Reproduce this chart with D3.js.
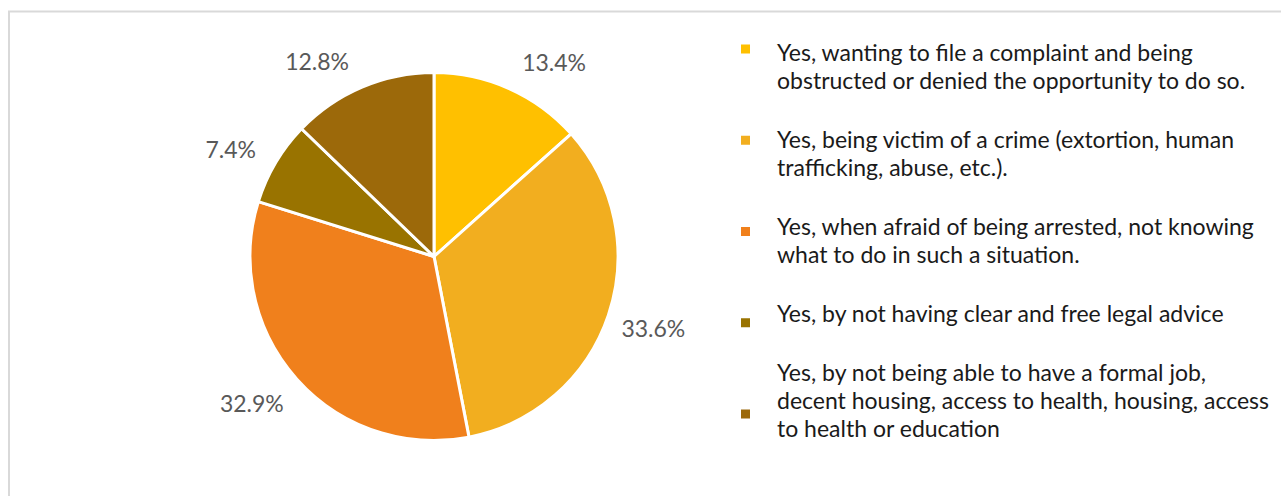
<!DOCTYPE html>
<html>
<head>
<meta charset="utf-8">
<script src="https://cdn.jsdelivr.net/npm/d3@7"></script>
<style>
  html, body { margin: 0; padding: 0; background: #fff; }
  svg { display: block; }
</style>
</head>
<body>
<svg id="chart" width="1281" height="496"></svg>
<script>
const categories = [
  "Yes, wanting to file a complaint and being\nobstructed or denied the opportunity to do so.",
  "Yes, being victim of a crime (extortion, human\ntrafficking, abuse, etc.).",
  "Yes, when afraid of being arrested, not knowing\nwhat to do in such a situation.",
  "Yes, by not having clear and free legal advice",
  "Yes, by not being able to have a formal job,\ndecent housing, access to health, housing, access\nto health or education"
];
const values = [13.4, 33.6, 32.9, 7.4, 12.8];
const valueLabels = ["13.4%", "33.6%", "32.9%", "7.4%", "12.8%"];
const colors = ["#FFC000", "#F2AE1F", "#F0801C", "#997300", "#9C690A"];

const svg = d3.select("#chart");
const FONT = "Lato, 'Open Sans', sans-serif";

// chart area border (extends past right and bottom edge)
svg.append("rect")
  .attr("x", 9).attr("y", 11.5)
  .attr("width", 1400).attr("height", 600)
  .attr("fill", "#fff")
  .attr("stroke", "#d9d9d9").attr("stroke-width", 2);

const cx = 434, cy = 256.5, R = 184;
const g = svg.append("g").attr("transform", `translate(${cx},${cy})`);

const pie = d3.pie().sort(null).value(d => d);
const arcs = pie(values);
const arc = d3.arc().innerRadius(0).outerRadius(R);

g.selectAll("path.slice").data(arcs).enter().append("path")
  .attr("class", "slice")
  .attr("d", arc)
  .attr("fill", (d, i) => colors[i])
  .attr("stroke", "#fff").attr("stroke-width", 3)
  .attr("stroke-linejoin", "round");

// outside-end data labels
g.selectAll("text.lbl").data(arcs).enter().append("text")
  .attr("class", "lbl")
  .attr("x", d => {
    const a = (d.startAngle + d.endAngle) / 2;
    return R * Math.sin(a) + Math.sign(Math.sin(a)) * 45;
  })
  .attr("y", d => {
    const a = (d.startAngle + d.endAngle) / 2;
    return -R * Math.cos(a) - 31.4 * Math.cos(a) + 3.7;
  })
  .attr("dy", "0.34em")
  .attr("text-anchor", "middle")
  .attr("font-family", FONT)
  .attr("font-size", 23)
  .attr("fill", "#595959")
  .text((d, i) => valueLabels[i]);

// legend
const lg = svg.append("g");
const lineH = 28;
let baseline = 61;
categories.forEach((c, i) => {
  const lines = c.split("\n");
  lg.append("rect")
    .attr("x", 741).attr("y", 49 + i * 91.25 - 4.5)
    .attr("width", 9).attr("height", 9)
    .attr("fill", colors[i]);
  const t = lg.append("text")
    .attr("x", 777).attr("y", baseline)
    .attr("font-family", FONT)
    .attr("font-size", 23)
    .attr("fill", "#1a1a1a");
  lines.forEach((ln, k) => {
    t.append("tspan").attr("x", 777).attr("y", baseline + k * lineH).text(ln);
  });
  baseline += lines.length * lineH + 31;
});
</script>
</body>
</html>
